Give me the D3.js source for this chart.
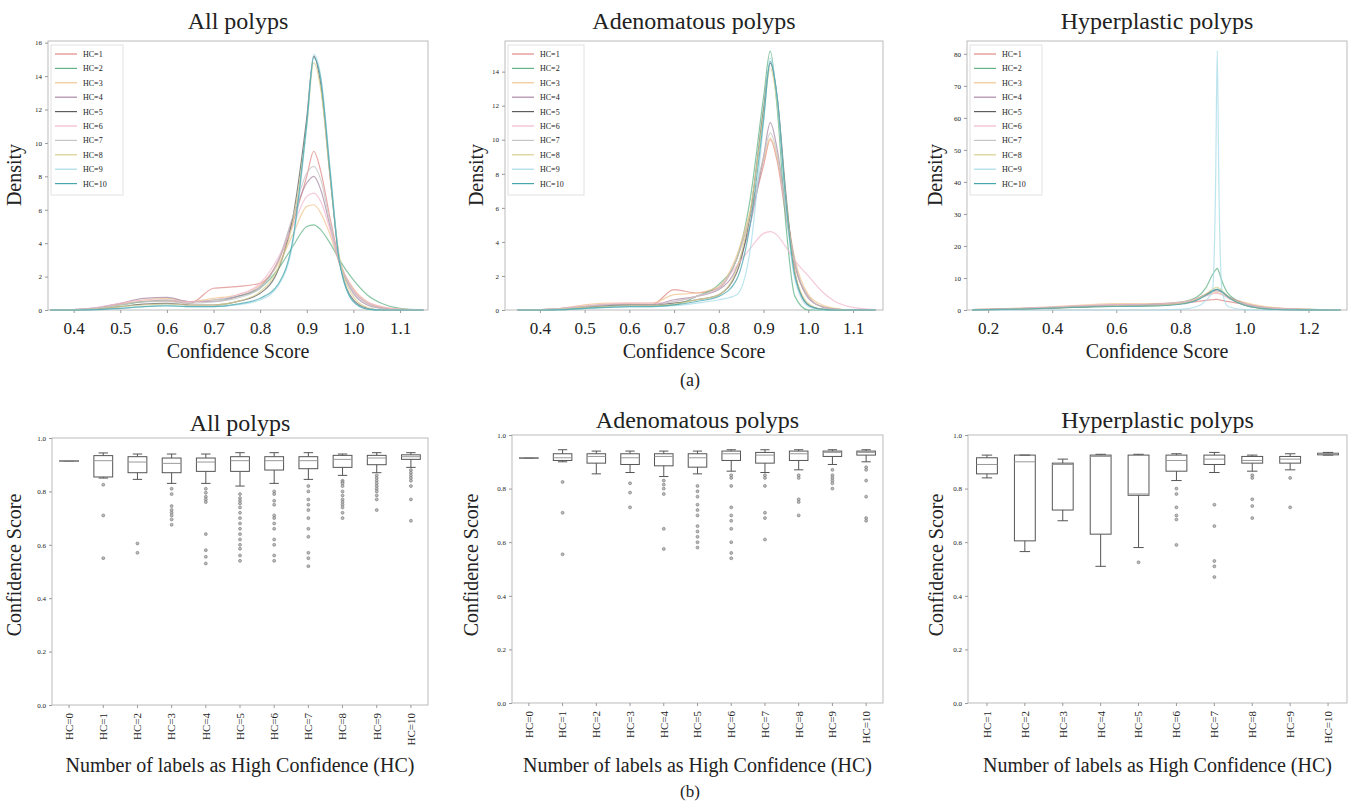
<!DOCTYPE html>
<html>
<head>
  <meta charset="utf-8">
  <title>Confidence score distributions</title>
  <script src="https://cdn.jsdelivr.net/npm/d3@7/dist/d3.min.js"></script>
  <style>
    body { margin: 0; background: #fff; }
    svg text { font-family: "Liberation Serif", "Times New Roman", serif !important; fill: #222; }
    .frame { fill: none; stroke: #bbb; stroke-width: 1; }
    .tick line { stroke: #999; }
    .domain { display: none; }
  </style>
</head>
<body>
<svg id="chart" width="1352" height="808"></svg>
<script>
  // ---- shared labels / colours ----
  var hcNames = ["HC=1", "HC=2", "HC=3", "HC=4", "HC=5", "HC=6", "HC=7", "HC=8", "HC=9", "HC=10"];
  var lineColors = ["#e08a86", "#62b387", "#f0c590", "#a98aa6", "#5d5d5d",
                    "#f2b7cf", "#c4c4c4", "#d9cf8e", "#a6dbe8", "#47a5ad"];

  // ---- (a) density curves ----
  var densX = [0.35, 0.4, 0.45, 0.5, 0.55, 0.6, 0.65, 0.7, 0.75, 0.8, 0.84, 0.87, 0.9, 0.915, 0.93, 0.95, 0.97, 1.0, 1.03, 1.06, 1.1, 1.15];

  var densAll = [
    [0, 0.02, 0.1, 0.35, 0.5, 0.55, 0.4, 1.3, 1.4, 1.6, 3.0, 5.2, 8.0, 9.5, 8.3, 5.5, 3.0, 1.2, 0.4, 0.15, 0.03, 0],
    [0, 0.02, 0.1, 0.3, 0.5, 0.6, 0.5, 0.6, 0.8, 1.3, 2.5, 3.8, 5.0, 5.1, 4.8, 4.0, 3.0, 1.8, 0.9, 0.4, 0.1, 0],
    [0, 0.02, 0.1, 0.35, 0.6, 0.7, 0.5, 0.7, 0.9, 1.5, 2.8, 4.5, 6.2, 6.3, 5.8, 4.5, 2.8, 1.3, 0.5, 0.2, 0.05, 0],
    [0, 0.02, 0.15, 0.4, 0.7, 0.75, 0.5, 0.5, 0.8, 1.4, 3.0, 5.5, 7.6, 8.0, 7.2, 5.0, 2.8, 1.0, 0.3, 0.1, 0, 0],
    [0, 0.01, 0.05, 0.2, 0.35, 0.4, 0.3, 0.3, 0.5, 1.0, 2.5, 5.5, 11.5, 15.2, 13.5, 8.0, 3.0, 0.6, 0.1, 0, 0, 0],
    [0, 0.03, 0.15, 0.4, 0.6, 0.6, 0.5, 0.6, 0.9, 1.6, 3.2, 5.0, 6.8, 7.0, 6.5, 4.8, 2.9, 1.2, 0.5, 0.2, 0.05, 0],
    [0, 0.02, 0.1, 0.3, 0.5, 0.5, 0.4, 0.5, 0.7, 1.3, 3.0, 5.6, 8.2, 8.6, 7.8, 5.2, 2.9, 1.1, 0.4, 0.1, 0, 0],
    [0, 0.01, 0.05, 0.2, 0.3, 0.35, 0.3, 0.3, 0.5, 1.1, 2.6, 5.2, 11.0, 14.8, 13.2, 8.0, 3.2, 0.8, 0.15, 0, 0, 0],
    [0, 0, 0.02, 0.1, 0.2, 0.3, 0.2, 0.2, 0.3, 0.6, 1.5, 4.0, 11.0, 15.3, 14.0, 8.5, 3.0, 0.5, 0.05, 0, 0, 0],
    [0, 0, 0.02, 0.1, 0.2, 0.25, 0.2, 0.2, 0.35, 0.7, 1.6, 4.2, 11.2, 15.1, 13.8, 8.3, 2.9, 0.5, 0.05, 0, 0, 0]
  ];

  var densAden = [
    [0, 0.02, 0.1, 0.2, 0.3, 0.35, 0.3, 1.2, 1.0, 1.3, 3.0, 5.5, 8.5, 10.0, 8.8, 5.5, 2.6, 0.8, 0.2, 0.05, 0, 0],
    [0, 0, 0.02, 0.1, 0.2, 0.3, 0.25, 0.3, 0.8, 1.5, 3.0, 6.5, 12.5, 15.2, 12.0, 5.0, 0.8, 0, 0, 0, 0, 0],
    [0, 0.02, 0.1, 0.3, 0.4, 0.4, 0.4, 0.9, 1.0, 1.4, 3.2, 5.8, 8.8, 10.1, 9.0, 6.0, 3.0, 0.9, 0.3, 0.1, 0, 0],
    [0, 0.02, 0.1, 0.2, 0.3, 0.3, 0.3, 0.6, 0.8, 1.2, 2.5, 5.0, 9.0, 11.0, 9.5, 6.0, 2.8, 0.7, 0.2, 0.05, 0, 0],
    [0, 0.01, 0.05, 0.15, 0.25, 0.3, 0.3, 0.4, 0.6, 0.9, 2.2, 5.6, 11.8, 14.5, 12.6, 6.8, 2.2, 0.3, 0.05, 0, 0, 0],
    [0, 0.03, 0.1, 0.25, 0.35, 0.4, 0.4, 0.5, 0.8, 1.3, 2.6, 3.6, 4.5, 4.6, 4.4, 3.7, 2.9, 2.0, 1.1, 0.5, 0.15, 0.02],
    [0, 0.02, 0.08, 0.2, 0.3, 0.3, 0.3, 0.5, 0.8, 1.3, 3.0, 5.6, 9.0, 10.4, 9.2, 5.8, 2.8, 0.8, 0.2, 0.05, 0, 0],
    [0, 0.01, 0.05, 0.15, 0.2, 0.25, 0.25, 0.35, 0.6, 0.9, 2.4, 5.8, 11.5, 14.2, 12.2, 6.5, 2.2, 0.4, 0.05, 0, 0, 0],
    [0, 0, 0.02, 0.08, 0.15, 0.2, 0.2, 0.25, 0.4, 0.6, 0.9, 3.5, 11.0, 14.8, 12.5, 6.0, 1.8, 0.2, 0, 0, 0, 0],
    [0, 0, 0.02, 0.1, 0.15, 0.2, 0.2, 0.3, 0.5, 0.8, 1.8, 5.0, 11.2, 14.6, 12.6, 6.4, 2.0, 0.3, 0.05, 0, 0, 0]
  ];

  var densHypX = [0.15, 0.2, 0.3, 0.4, 0.5, 0.6, 0.7, 0.8, 0.85, 0.88, 0.9, 0.91, 0.915, 0.92, 0.93, 0.95, 1.0, 1.05, 1.1, 1.2, 1.3];

  var densHyp = [
    [0.1, 0.2, 0.4, 0.7, 1.1, 1.5, 1.6, 2.0, 2.6, 3.0, 3.2, 3.3, 3.3, 3.2, 3.0, 2.6, 1.8, 1.0, 0.6, 0.2, 0.05],
    [0.1, 0.2, 0.4, 0.7, 1.0, 1.5, 1.8, 2.5, 4.0, 7.0, 11.0, 12.5, 13.0, 12.0, 9.0, 5.0, 2.0, 1.0, 0.5, 0.2, 0.1],
    [0.1, 0.3, 0.6, 1.0, 1.6, 2.0, 2.0, 2.4, 3.5, 4.6, 5.2, 5.4, 5.4, 5.3, 5.0, 4.0, 2.4, 1.3, 0.7, 0.2, 0.05],
    [0.05, 0.15, 0.4, 0.8, 1.3, 1.6, 1.7, 2.2, 3.5, 5.0, 5.8, 6.0, 6.0, 5.9, 5.5, 4.2, 2.0, 0.9, 0.4, 0.1, 0],
    [0.05, 0.1, 0.3, 0.6, 1.0, 1.3, 1.4, 2.0, 3.2, 4.8, 6.0, 6.3, 6.4, 6.2, 5.6, 4.0, 1.6, 0.6, 0.2, 0.05, 0],
    [0.1, 0.2, 0.5, 0.9, 1.4, 1.7, 1.8, 2.4, 3.4, 4.4, 5.0, 5.2, 5.2, 5.1, 4.7, 3.6, 2.0, 1.0, 0.5, 0.15, 0.05],
    [0.05, 0.15, 0.35, 0.7, 1.1, 1.4, 1.5, 2.1, 3.2, 4.6, 5.6, 6.0, 6.1, 6.0, 5.4, 3.9, 1.8, 0.8, 0.3, 0.1, 0],
    [0.05, 0.1, 0.3, 0.6, 0.9, 1.2, 1.3, 2.0, 3.3, 5.0, 6.5, 7.0, 7.1, 6.9, 6.1, 4.2, 1.5, 0.5, 0.15, 0.05, 0],
    [0, 0, 0, 0, 0, 0, 0, 0.2, 1.0, 3.0, 6.0, 40.0, 81.0, 40.0, 6.0, 1.0, 0.1, 0, 0, 0, 0],
    [0.05, 0.1, 0.3, 0.6, 0.9, 1.1, 1.2, 1.8, 3.0, 4.6, 5.9, 6.4, 6.5, 6.3, 5.7, 4.0, 1.5, 0.5, 0.15, 0.05, 0]
  ];

  // ---- (b) box plots: [lower whisker, q1, median, q3, upper whisker] ----
  var boxCatsAll = ["HC=0", "HC=1", "HC=2", "HC=3", "HC=4", "HC=5", "HC=6", "HC=7", "HC=8", "HC=9", "HC=10"];
  var boxStatsAll = [
    [0.915, 0.915, 0.915, 0.915, 0.915],
    [0.85, 0.854, 0.915, 0.934, 0.944],
    [0.845, 0.87, 0.91, 0.93, 0.94],
    [0.83, 0.87, 0.905, 0.925, 0.94],
    [0.83, 0.875, 0.91, 0.925, 0.94],
    [0.82, 0.875, 0.915, 0.93, 0.945],
    [0.83, 0.88, 0.915, 0.93, 0.945],
    [0.845, 0.885, 0.915, 0.93, 0.945],
    [0.86, 0.89, 0.92, 0.935, 0.94],
    [0.87, 0.9, 0.925, 0.935, 0.945],
    [0.89, 0.92, 0.93, 0.937, 0.945]
  ];
  var boxOutAll = [
    [],
    [0.825, 0.71, 0.55],
    [0.605, 0.57],
    [0.81, 0.79, 0.745, 0.73, 0.72, 0.71, 0.695, 0.675],
    [0.81, 0.795, 0.78, 0.77, 0.76, 0.64, 0.58, 0.555, 0.53],
    [0.79, 0.775, 0.765, 0.755, 0.74, 0.72, 0.7, 0.68, 0.66, 0.64, 0.62, 0.6, 0.585, 0.56, 0.54],
    [0.8, 0.79, 0.765, 0.75, 0.71, 0.7, 0.68, 0.66, 0.62, 0.6, 0.56, 0.54],
    [0.82, 0.8, 0.77, 0.75, 0.73, 0.7, 0.66, 0.63, 0.57, 0.55, 0.52],
    [0.84, 0.835, 0.83, 0.82, 0.8, 0.785, 0.77, 0.76, 0.75, 0.74, 0.72, 0.7],
    [0.86, 0.85, 0.84, 0.83, 0.82, 0.81, 0.8, 0.785, 0.77, 0.73],
    [0.88, 0.87, 0.86, 0.85, 0.84, 0.82, 0.77, 0.69]
  ];

  var boxCatsAden = boxCatsAll;
  var boxStatsAden = [
    [0.915, 0.915, 0.915, 0.915, 0.915],
    [0.9, 0.905, 0.915, 0.93, 0.945],
    [0.855, 0.895, 0.92, 0.93, 0.94],
    [0.86, 0.89, 0.915, 0.93, 0.94],
    [0.845, 0.885, 0.92, 0.93, 0.94],
    [0.855, 0.88, 0.915, 0.93, 0.94],
    [0.865, 0.905, 0.93, 0.94, 0.945],
    [0.86, 0.895, 0.925, 0.935, 0.945],
    [0.87, 0.905, 0.93, 0.94, 0.945],
    [0.89, 0.92, 0.935, 0.94, 0.945],
    [0.9, 0.925, 0.935, 0.94, 0.945]
  ];
  var boxOutAden = [
    [],
    [0.825, 0.71, 0.555],
    [],
    [0.82, 0.785, 0.73],
    [0.83, 0.815, 0.8, 0.78, 0.65, 0.575],
    [0.81, 0.79, 0.77, 0.74, 0.72, 0.7, 0.66, 0.64, 0.62, 0.6, 0.58],
    [0.85, 0.84, 0.81, 0.73, 0.7, 0.68, 0.65, 0.6, 0.56, 0.54],
    [0.85, 0.84, 0.81, 0.71, 0.69, 0.61],
    [0.85, 0.84, 0.76, 0.75, 0.7],
    [0.87, 0.85, 0.84, 0.83, 0.82, 0.8],
    [0.88, 0.87, 0.83, 0.77, 0.69, 0.68]
  ];

  var boxCatsHyp = hcNames;
  var boxStatsHyp = [
    [0.84, 0.855, 0.89, 0.915, 0.925],
    [0.565, 0.605, 0.9, 0.925, 0.925],
    [0.68, 0.72, 0.89, 0.895, 0.91],
    [0.51, 0.63, 0.92, 0.925, 0.928],
    [0.58, 0.775, 0.78, 0.925, 0.928],
    [0.83, 0.865, 0.905, 0.925, 0.93],
    [0.86, 0.89, 0.91, 0.925, 0.935],
    [0.865, 0.895, 0.905, 0.92, 0.925],
    [0.87, 0.895, 0.91, 0.92, 0.93],
    [0.925, 0.926, 0.93, 0.932, 0.935]
  ];
  var boxOutHyp = [
    [], [], [], [],
    [0.525],
    [0.8, 0.78, 0.73, 0.7, 0.685, 0.59],
    [0.74, 0.66, 0.53, 0.51, 0.47],
    [0.85, 0.84, 0.76, 0.735, 0.69],
    [0.84, 0.73],
    []
  ];

  var svg = d3.select("#chart");
  var serif = "Liberation Serif, Times New Roman, serif";

  function densityPanel(cfg) {
    var x = d3.scaleLinear().domain(cfg.xDomain).range([cfg.left, cfg.right]);
    var y = d3.scaleLinear().domain(cfg.yDomain).range([cfg.bottom, cfg.top]);
    var g = svg.append("g");

    g.append("rect").attr("class", "frame")
      .attr("x", cfg.left).attr("y", cfg.top)
      .attr("width", cfg.right - cfg.left).attr("height", cfg.bottom - cfg.top);

    var xa = g.append("g").attr("transform", "translate(0," + cfg.bottom + ")")
      .call(d3.axisBottom(x).tickValues(cfg.xTicks).tickSize(3).tickFormat(d3.format(".1f")))
      .attr("font-family", serif);
    xa.selectAll("text").attr("font-size", 17).attr("dy", "1.05em");

    var ya = g.append("g").attr("transform", "translate(" + cfg.left + ",0)")
      .call(d3.axisLeft(y).tickValues(cfg.yTicks).tickSize(3).tickFormat(d3.format("d")))
      .attr("font-family", serif);
    ya.selectAll("text").attr("font-size", 7);

    var line = d3.line()
      .x(function(d) { return x(d[0]); })
      .y(function(d) { return y(d[1]); })
      .curve(d3.curveMonotoneX);

    cfg.series.forEach(function(ys, i) {
      g.append("path")
        .attr("d", line(cfg.xs.map(function(v, j) { return [v, ys[j]]; })))
        .attr("fill", "none")
        .attr("stroke", lineColors[i])
        .attr("stroke-width", 1.2)
        .attr("opacity", 0.75);
    });

    // legend
    var lg = g.append("g").attr("transform", "translate(" + (cfg.left + 3) + "," + (cfg.top + 4) + ")");
    lg.append("rect").attr("width", cfg.legendW).attr("height", 150)
      .attr("fill", "#fff").attr("stroke", "#e2e2e2");
    hcNames.forEach(function(name, i) {
      var yy = 9 + i * 14.4;
      lg.append("line").attr("x1", 4).attr("x2", 26).attr("y1", yy).attr("y2", yy)
        .attr("stroke", lineColors[i]).attr("stroke-width", 1.2);
      lg.append("text").attr("x", 32).attr("y", yy + 3).attr("font-size", 8).text(name);
    });

    g.append("text").attr("x", (cfg.left + cfg.right) / 2).attr("y", 29)
      .attr("text-anchor", "middle").attr("font-size", 24).text(cfg.title);
    g.append("text").attr("x", (cfg.left + cfg.right) / 2).attr("y", 358)
      .attr("text-anchor", "middle").attr("font-size", 20).text("Confidence Score");
    g.append("text").attr("transform", "translate(" + cfg.ylabelX + ",175) rotate(-90)")
      .attr("text-anchor", "middle").attr("font-size", 20).text("Density");
  }

  function boxPanel(cfg) {
    var x = d3.scaleBand().domain(cfg.cats).range([cfg.left, cfg.right]).padding(0);
    var y = d3.scaleLinear().domain([0, 1]).range([cfg.bottom, cfg.top]);
    var g = svg.append("g");
    var bw = x.bandwidth() * 0.55;

    g.append("rect").attr("class", "frame")
      .attr("x", cfg.left).attr("y", cfg.top)
      .attr("width", cfg.right - cfg.left).attr("height", cfg.bottom - cfg.top);

    var xa = g.append("g").attr("transform", "translate(0," + cfg.bottom + ")")
      .call(d3.axisBottom(x).tickSize(3))
      .attr("font-family", serif);
    xa.selectAll("text")
      .attr("font-size", 11)
      .attr("transform", "rotate(-90)")
      .attr("text-anchor", "end")
      .attr("x", -8).attr("y", 0).attr("dy", "0.35em");

    var ya = g.append("g").attr("transform", "translate(" + cfg.left + ",0)")
      .call(d3.axisLeft(y).tickValues([0, 0.2, 0.4, 0.6, 0.8, 1.0]).tickSize(3).tickFormat(d3.format(".1f")))
      .attr("font-family", serif);
    ya.selectAll("text").attr("font-size", 7);

    cfg.stats.forEach(function(s, i) {
      var cx = x(cfg.cats[i]) + x.bandwidth() / 2;
      var bg = g.append("g").attr("stroke", "#555").attr("stroke-width", 1).attr("fill", "none");
      // whiskers
      bg.append("line").attr("x1", cx).attr("x2", cx).attr("y1", y(s[0])).attr("y2", y(s[1]));
      bg.append("line").attr("x1", cx).attr("x2", cx).attr("y1", y(s[3])).attr("y2", y(s[4]));
      bg.append("line").attr("x1", cx - bw / 4).attr("x2", cx + bw / 4).attr("y1", y(s[0])).attr("y2", y(s[0]));
      bg.append("line").attr("x1", cx - bw / 4).attr("x2", cx + bw / 4).attr("y1", y(s[4])).attr("y2", y(s[4]));
      // box
      bg.append("rect").attr("x", cx - bw / 2).attr("width", bw)
        .attr("y", y(s[3])).attr("height", Math.max(0.5, y(s[1]) - y(s[3])));
      bg.append("line").attr("x1", cx - bw / 2).attr("x2", cx + bw / 2)
        .attr("y1", y(s[2])).attr("y2", y(s[2])).attr("stroke", "#999");
      // outliers
      cfg.out[i].forEach(function(v) {
        g.append("circle").attr("cx", cx).attr("cy", y(v)).attr("r", 1.5)
          .attr("fill", "#bbb").attr("stroke", "#666").attr("stroke-width", 0.5);
      });
    });

    g.append("text").attr("x", (cfg.left + cfg.right) / 2).attr("y", cfg.titleY)
      .attr("text-anchor", "middle").attr("font-size", 24).text(cfg.title);
    g.append("text").attr("x", (cfg.left + cfg.right) / 2).attr("y", 772)
      .attr("text-anchor", "middle").attr("font-size", 20).text("Number of labels as High Confidence (HC)");
    g.append("text").attr("transform", "translate(" + cfg.ylabelX + ",565) rotate(-90)")
      .attr("text-anchor", "middle").attr("font-size", 20).text("Confidence Score");
  }

  densityPanel({ title: "All polyps", left: 48, right: 428, top: 41, bottom: 310,
    xDomain: [0.345, 1.16], yDomain: [0, 16.1], xTicks: [0.4, 0.5, 0.6, 0.7, 0.8, 0.9, 1.0, 1.1],
    yTicks: d3.range(0, 17, 2), xs: densX, series: densAll, legendW: 72, ylabelX: 21 });
  densityPanel({ title: "Adenomatous polyps", left: 505, right: 883, top: 41, bottom: 310,
    xDomain: [0.322, 1.167], yDomain: [0, 15.8], xTicks: [0.4, 0.5, 0.6, 0.7, 0.8, 0.9, 1.0, 1.1],
    yTicks: d3.range(0, 15, 2), xs: densX, series: densAden, legendW: 76, ylabelX: 483 });
  densityPanel({ title: "Hyperplastic polyps", left: 967, right: 1347, top: 41, bottom: 310,
    xDomain: [0.134, 1.32], yDomain: [0, 84], xTicks: [0.2, 0.4, 0.6, 0.8, 1.0, 1.2],
    yTicks: d3.range(0, 81, 10), xs: densHypX, series: densHyp, legendW: 72, ylabelX: 942 });

  boxPanel({ title: "All polyps", left: 52, right: 428, top: 438, bottom: 705, titleY: 431,
    cats: boxCatsAll, stats: boxStatsAll, out: boxOutAll, ylabelX: 21 });
  boxPanel({ title: "Adenomatous polyps", left: 512, right: 883, top: 435, bottom: 703, titleY: 428,
    cats: boxCatsAden, stats: boxStatsAden, out: boxOutAden, ylabelX: 478 });
  boxPanel({ title: "Hyperplastic polyps", left: 968, right: 1347, top: 435, bottom: 703, titleY: 428,
    cats: boxCatsHyp, stats: boxStatsHyp, out: boxOutHyp, ylabelX: 943 });

  svg.append("text").attr("x", 690).attr("y", 386).attr("text-anchor", "middle").attr("font-size", 18).text("(a)");
  svg.append("text").attr("x", 690).attr("y", 797).attr("text-anchor", "middle").attr("font-size", 17).text("(b)");
</script>
</body>
</html>
